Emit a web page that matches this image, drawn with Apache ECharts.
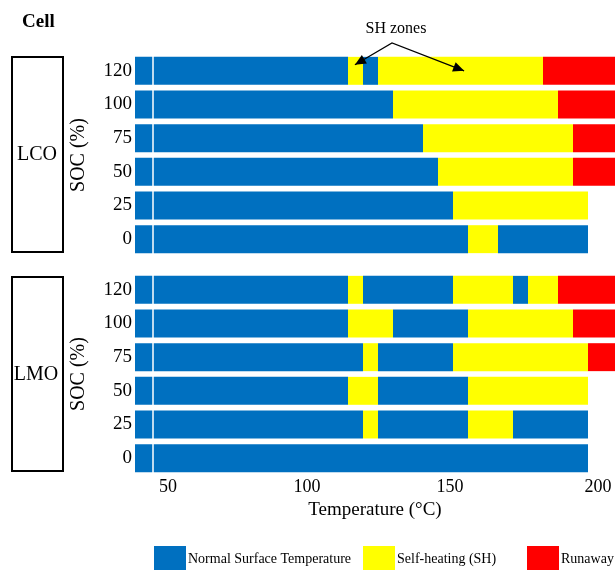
<!DOCTYPE html>
<html>
<head>
<meta charset="utf-8">
<script src="https://cdn.jsdelivr.net/npm/echarts@6/dist/echarts.min.js"></script>
<style>
  html, body { margin: 0; padding: 0; background: #fff; }
  #chart { width: 616px; height: 570px; }
</style>
</head>
<body>
<div id="chart"></div>
<script>
// SOC levels, bottom to top
var socLevels = ['0', '25', '50', '75', '100', '120'];
var stateNames = ['Normal Surface Temperature', 'Self-heating (SH)', 'Runaway'];
var stateColors = ['#0070C0', '#FFFF00', '#FF0000'];
var xTicks = [50, 100, 150, 200];

// temperature (°C) where each zone ends, per SOC row
var lcoEnds = [
    [155, 165, 195],
    [150, 195],
    [145, 190, 204],
    [140, 190, 204],
    [130, 185, 204],
    [115, 120, 125, 180, 204]
];
// zone state per segment: 0 normal, 1 self-heating, 2 runaway
var lcoStates = [
    [0, 1, 0],
    [0, 1],
    [0, 1, 2],
    [0, 1, 2],
    [0, 1, 2],
    [0, 1, 0, 1, 2]
];
var lmoEnds = [
    [195],
    [120, 125, 155, 170, 195],
    [115, 125, 155, 195],
    [120, 125, 150, 195, 204],
    [115, 130, 155, 190, 204],
    [115, 120, 150, 170, 175, 185, 204]
];
var lmoStates = [
    [0],
    [0, 1, 0, 1, 0],
    [0, 1, 0, 1],
    [0, 1, 0, 1, 2],
    [0, 1, 0, 1, 2],
    [0, 1, 0, 1, 0, 1, 2]
];
var splitTemp = 50; // white divider line

var FONT = 'Liberation Serif';

function buildSeries(ends, states, g) {
    var maxSeg = 0;
    for (var r = 0; r < ends.length; r++) {
        if (ends[r].length > maxSeg) maxSeg = ends[r].length;
    }
    var out = [];
    for (var j = 0; j < maxSeg; j++) {
        for (var s = 0; s < 3; s++) {
            var data = [];
            var any = false;
            for (var r = 0; r < ends.length; r++) {
                var v = 0;
                if (j < ends[r].length && states[r][j] === s) {
                    v = ends[r][j] - (j > 0 ? ends[r][j - 1] : 0);
                    any = true;
                }
                data.push(v);
            }
            if (!any) continue;
            out.push({
                name: stateNames[s],
                type: 'bar',
                stack: 'cell' + g,
                xAxisIndex: g,
                yAxisIndex: g,
                barCategoryGap: '17%',
                silent: true,
                itemStyle: { color: stateColors[s] },
                data: data
            });
        }
    }
    out[0].markLine = {
        silent: true,
        symbol: 'none',
        label: { show: false },
        lineStyle: { color: '#fff', width: 1.5, type: 'solid' },
        data: [{ xAxis: splitTemp }]
    };
    return out;
}

function yAxisOf(g) {
    return {
        type: 'category',
        gridIndex: g,
        data: socLevels,
        axisLine: { show: false },
        axisTick: { show: false },
        axisLabel: { fontFamily: FONT, fontSize: 19, color: '#000', margin: 3 },
        name: 'SOC (%)',
        nameLocation: 'middle',
        nameRotate: 90,
        nameGap: 46,
        nameTextStyle: { fontFamily: FONT, fontSize: 20, color: '#000' }
    };
}

// 刻度文字在原图中略有偏移
function tickStyle(padL, padR) {
    return { fontFamily: FONT, fontSize: 18, color: '#000', padding: [0, padR, 0, padL] };
}

function xAxisOf(g, showLabels) {
    var ax = {
        type: 'value',
        gridIndex: g,
        min: 44,
        max: 204,
        splitLine: { show: false },
        axisLine: { show: false },
        axisTick: { show: false },
        axisLabel: {
            show: showLabels,
            customValues: xTicks,
            fontFamily: FONT,
            fontSize: 18,
            color: '#000',
            margin: 3,
            formatter: function (v) {
                var key = { 50: 'a', 100: 'b', 150: 'c', 200: 'd' }[v];
                return key ? '{' + key + '|' + v + '}' : String(v);
            },
            rich: {
                a: tickStyle(30, 0),
                b: tickStyle(8, 0),
                c: tickStyle(0, 6),
                d: tickStyle(0, 10)
            }
        }
    };
    if (showLabels) {
        ax.name = 'Temperature (°C)';
        ax.nameLocation = 'middle';
        ax.nameGap = 26;
        ax.nameTextStyle = { fontFamily: FONT, fontSize: 19, color: '#000' };
    }
    return ax;
}

function legendOf(i, left) {
    return {
        data: [stateNames[i]],
        left: left,
        top: 546,
        padding: 0,
        itemWidth: 32,
        itemHeight: 26,
        icon: 'rect',
        selectedMode: false,
        textStyle: { fontFamily: FONT, fontSize: 14, color: '#000', padding: [6, 0, 0, -3] }
    };
}

var chart = echarts.init(document.getElementById('chart'));
var option = {
    animation: false,
    backgroundColor: '#fff',
    grid: [
        { left: 135, top: 54, width: 480, height: 202, outerBoundsMode: 'none' },
        { left: 135, top: 273, width: 480, height: 202, outerBoundsMode: 'none' }
    ],
    xAxis: [xAxisOf(0, false), xAxisOf(1, true)],
    yAxis: [yAxisOf(0), yAxisOf(1)],
    legend: [legendOf(0, 154), legendOf(1, 363), legendOf(2, 527)],
    series: buildSeries(lcoEnds, lcoStates, 0).concat(buildSeries(lmoEnds, lmoStates, 1))
};
chart.setOption(option);

// 注释：Cell 标题、LCO/LMO 框、SH zones 箭头
function arrowHead(tip, from, len, half) {
    var dx = tip[0] - from[0], dy = tip[1] - from[1];
    var d = Math.sqrt(dx * dx + dy * dy);
    var ux = dx / d, uy = dy / d;
    var bx = tip[0] - ux * len, by = tip[1] - uy * len;
    return [tip, [bx - uy * half, by + ux * half], [bx + uy * half, by - ux * half]];
}

var apex = [392, 43];
var tip1 = chart.convertToPixel({ xAxisIndex: 0, yAxisIndex: 0 }, [117.3, '120']);
tip1 = [tip1[0], tip1[1] - 6];
var tip2 = chart.convertToPixel({ xAxisIndex: 0, yAxisIndex: 0 }, [153.7, '120']);

var graphics = [
    { type: 'text', style: { text: 'Cell', x: 22, y: 22, fill: '#000', font: 'bold 19px "Liberation Serif"', textAlign: 'left', textVerticalAlign: 'middle', align: 'left', verticalAlign: 'middle' } },
    { type: 'rect', shape: { x: 12, y: 57, width: 51, height: 195 }, style: { fill: 'none', stroke: '#000', lineWidth: 2 } },
    { type: 'text', style: { text: 'LCO', x: 37, y: 155, fill: '#000', font: '20px "Liberation Serif"', textAlign: 'center', textVerticalAlign: 'middle', align: 'center', verticalAlign: 'middle' } },
    { type: 'rect', shape: { x: 12, y: 277, width: 51, height: 194 }, style: { fill: 'none', stroke: '#000', lineWidth: 2 } },
    { type: 'text', style: { text: 'LMO', x: 36, y: 375, fill: '#000', font: '20px "Liberation Serif"', textAlign: 'center', textVerticalAlign: 'middle', align: 'center', verticalAlign: 'middle' } },
    { type: 'text', style: { text: 'SH zones', x: 396, y: 29, fill: '#000', font: '16px "Liberation Serif"', textAlign: 'center', textVerticalAlign: 'middle', align: 'center', verticalAlign: 'middle' } },
    { type: 'polyline', shape: { points: [tip1, apex, tip2] }, style: { stroke: '#000', lineWidth: 1.2, fill: 'none' }, z: 10 },
    { type: 'polygon', shape: { points: arrowHead(tip1, apex, 11, 5) }, style: { fill: '#000' }, z: 10 },
    { type: 'polygon', shape: { points: arrowHead(tip2, apex, 11, 5) }, style: { fill: '#000' }, z: 10 }
];
chart.setOption({ graphic: graphics });
</script>
</body>
</html>
